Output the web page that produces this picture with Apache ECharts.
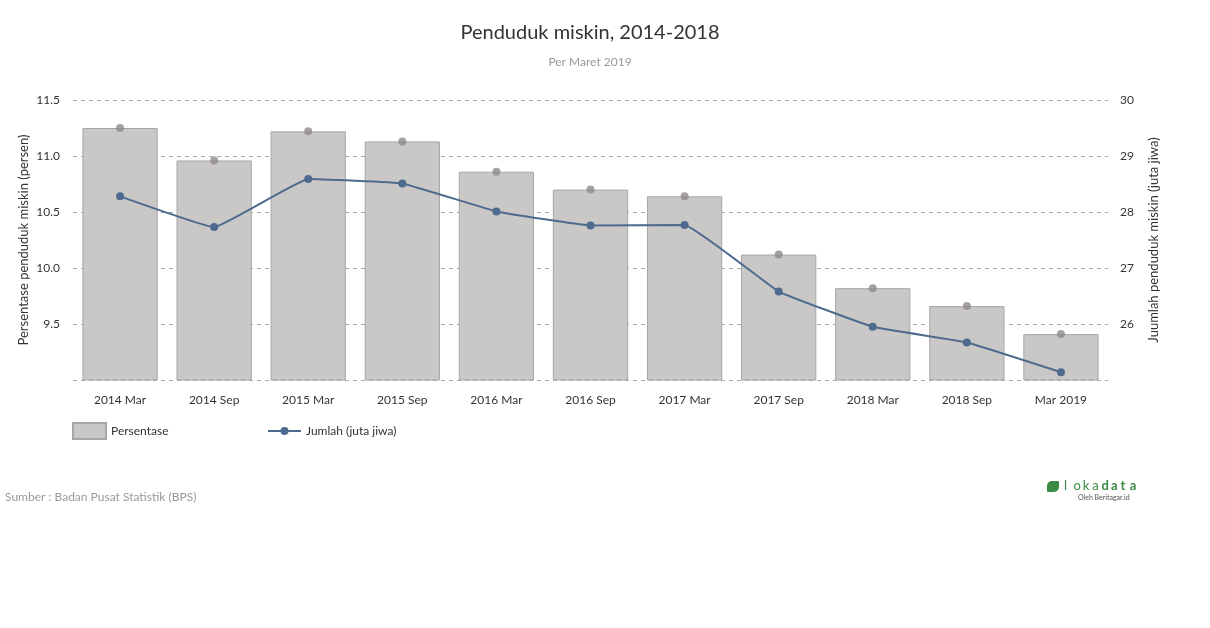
<!DOCTYPE html>
<html><head><meta charset="utf-8">
<script src="https://cdn.jsdelivr.net/npm/echarts@6/dist/echarts.min.js"></script>
<style>html,body{margin:0;padding:0;background:#fff}#c{width:1210px;height:628px}</style>
</head><body><div id="c"></div>
<script>
const categories = ['2014 Mar','2014 Sep','2015 Mar','2015 Sep','2016 Mar','2016 Sep','2017 Mar','2017 Sep','2018 Mar','2018 Sep','Mar 2019'];
const persentase = [11.25,10.96,11.22,11.13,10.86,10.70,10.64,10.12,9.82,9.66,9.41];
const jumlah = [28.28,27.73,28.59,28.51,28.01,27.76,27.77,26.58,25.95,25.67,25.14];
const leftTicks = {min:9, max:11.5, interval:0.5};
const rightTicks = {min:25, max:30, interval:1};

const font = 'Lato';
const logoLetters = ['l','o','k','a','d','a','t','a'];
const logoChildren = [
  {type:'rect', shape:{x:0,y:0,width:12,height:11, r:[5,1,5,1]}, style:{fill:'#3b8a43'}}
];
logoLetters.forEach((ch,i)=>{
  logoChildren.push({type:'text', style:{x:17 + i*9.4, y:-2, text:ch, font:(i>=4?'bold ':'')+'13px Lato', fill:'#3b8a43'}});
});
logoChildren.push({type:'text', style:{x:31, y:13, text:'Oleh Beritagar.id', font:'7px Lato', fill:'#555'}});

const chart = echarts.init(document.getElementById('c'));
chart.setOption({
  animation:false,
  textStyle:{fontFamily:font},
  grid:{left:73, right:102, top:100, bottom:248},
  legend:[
    {data:[{name:'Persentase', icon:'rect'}], left:72, top:422, padding:0, itemWidth:33, itemHeight:16,
     textStyle:{fontSize:12,color:'#333',fontFamily:font}},
    {data:[{name:'Jumlah (juta jiwa)'}], left:267, top:425, padding:0, itemWidth:33, itemHeight:10,
     textStyle:{fontSize:12,color:'#333',fontFamily:font}}
  ],
  xAxis:{type:'category', data:categories, axisLine:{show:false}, axisTick:{show:false},
    axisLabel:{color:'#333', fontSize:12, margin:14, fontFamily:font}},
  yAxis:[
    {type:'value', min:leftTicks.min, max:leftTicks.max, interval:leftTicks.interval, position:'left',
     name:'Persentase penduduk miskin (persen)', nameLocation:'middle', nameGap:43, nameRotate:90, nameMoveOverlap:false,
     nameTextStyle:{fontSize:13, color:'#333', fontFamily:font},
     axisLine:{show:false}, axisTick:{show:false},
     axisLabel:{color:'#333', fontSize:12, margin:13, fontFamily:font, formatter:v=> v===leftTicks.min ? '' : v.toFixed(1)},
     splitLine:{lineStyle:{type:[4,4], color:'#aaa'}}},
    {type:'value', min:rightTicks.min, max:rightTicks.max, interval:rightTicks.interval, position:'right',
     name:'Juumlah penduduk miskin (juta jiwa)', nameLocation:'middle', nameGap:39, nameRotate:90, nameMoveOverlap:false,
     nameTextStyle:{fontSize:13, color:'#333', fontFamily:font},
     axisLine:{show:false}, axisTick:{show:false},
     axisLabel:{color:'#333', fontSize:12, margin:12, fontFamily:font, formatter:v=> v===rightTicks.min ? '' : String(v)},
     splitLine:{show:false}}
  ],
  series:[
    {name:'Persentase', type:'bar', yAxisIndex:0, data:persentase, barCategoryGap:'20%',
     itemStyle:{color:'#c9c8c7', borderColor:'#a6a6a6', borderWidth:1}},
    {name:'PersentaseDot', type:'scatter', yAxisIndex:0, data:persentase, symbolSize:8,
     itemStyle:{color:'#8e8a8a'}, z:5},
    {name:'Jumlah (juta jiwa)', type:'line', yAxisIndex:1, data:jumlah, smooth:0.08,
     symbol:'circle', symbolSize:8, lineStyle:{color:'#4e6a8e', width:2}, itemStyle:{color:'#4e6a8e'}, z:6}
  ],
  graphic:[
    {type:'text', style:{x:590, y:33, text:'Penduduk miskin, 2014-2018', align:'center', verticalAlign:'middle', font:'20px Lato', fill:'#333'}},
    {type:'text', style:{x:590, y:62, text:'Per Maret 2019', align:'center', verticalAlign:'middle', font:'12px Lato', fill:'#999'}},
    {type:'text', style:{x:5, y:497, text:'Sumber : Badan Pusat Statistik (BPS)', verticalAlign:'middle', font:'12px Lato', fill:'#999'}},
    {type:'group', x:1047, y:481, children:logoChildren}
  ]
});
</script></body></html>
